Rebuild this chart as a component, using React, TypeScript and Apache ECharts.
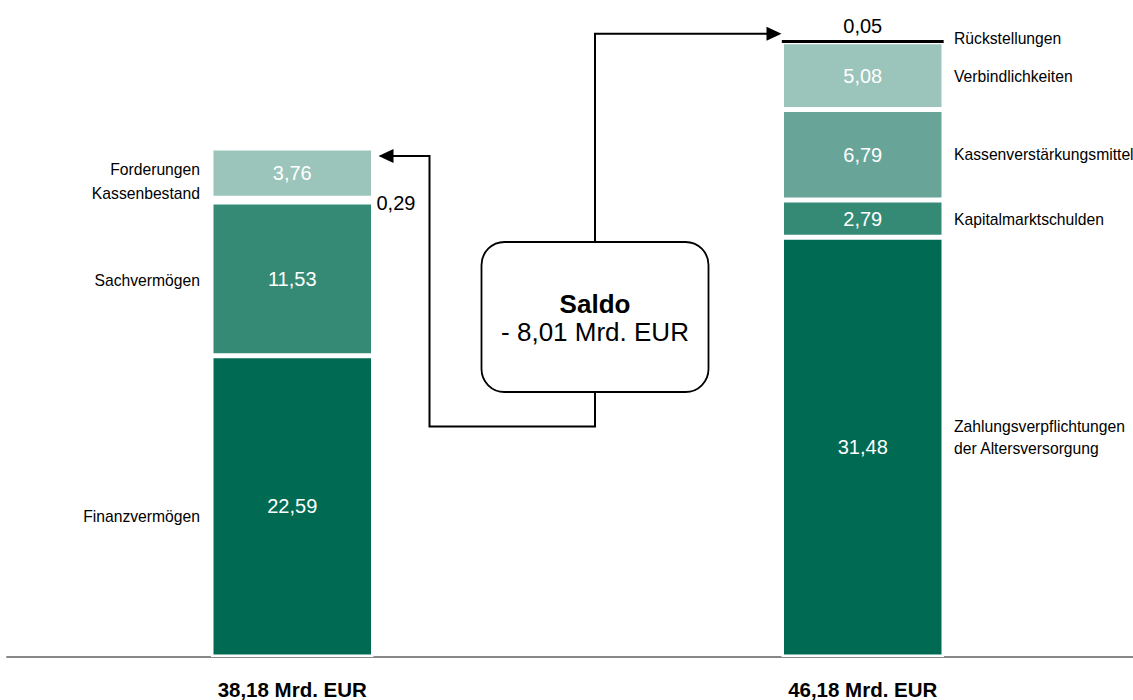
import React, { useEffect, useRef } from 'react';
import * as echarts from 'echarts';

// ---- data ----
const categories = ['38,18 Mrd. EUR', '46,18 Mrd. EUR'];
const leftNames = ['Finanzvermögen', 'Sachvermögen', 'Kassenbestand', 'Forderungen'];
const leftValues = [22.59, 11.53, 0.29, 3.76];
const rightNames = [
  'Zahlungsverpflichtungen\nder Altersversorgung',
  'Kapitalmarktschulden',
  'Kassenverstärkungsmittel',
  'Verbindlichkeiten',
  'Rückstellungen',
];
const rightValues = [31.48, 2.79, 6.79, 5.08, 0.05];
const saldoTitle = 'Saldo';
const saldoText = '- 8,01 Mrd. EUR';

// ---- styles / layout ----
const leftColors = ['#006a52', '#358a75', '#c6ded8', '#9bc4ba'];
const rightColors = ['#006a52', '#358a75', '#68a598', '#9bc4ba', '#000000'];
const leftNameDy = [10, 2, -7, -4];
const rightNameDy = [-9.6, 0.6, 0, 1, -3];
const BAR_W = 162.5;
const FONT = "'Liberation Sans', Arial, Helvetica, sans-serif";

const fmt = (v: number) => v.toFixed(2).replace('.', ',');

export default function App() {
  const ref = useRef<HTMLDivElement>(null);

  useEffect(() => {
    if (!ref.current) return;
    const chart = echarts.init(ref.current, null, { renderer: 'svg' });

    const valueLabel = (p: any) => (typeof p.value === 'number' ? fmt(p.value) : '');

    const leftSeries = leftValues.map((v, i) => ({
      type: 'bar',
      stack: 'total',
      name: leftNames[i],
      barWidth: BAR_W,
      data: [v, '-'],
      itemStyle: { color: leftColors[i], borderColor: '#ffffff', borderWidth: 2.5 },
      label:
        i === 2
          ? { show: true, position: 'right', distance: 3, offset: [0, 3], color: '#000', fontSize: 20, formatter: valueLabel }
          : { show: true, position: 'inside', color: '#ffffff', fontSize: 20, formatter: valueLabel },
    }));

    const rightSeries = rightValues.map((v, i) => ({
      type: 'bar',
      stack: 'total',
      name: rightNames[i],
      barWidth: BAR_W,
      data: ['-', v],
      itemStyle:
        i === 4
          ? { color: '#000', borderColor: '#000', borderWidth: 3 }
          : { color: rightColors[i], borderColor: '#ffffff', borderWidth: 2.5 },
      label:
        i === 4
          ? { show: true, position: 'top', distance: 4, color: '#000', fontSize: 20, formatter: valueLabel }
          : { show: true, position: 'inside', color: '#ffffff', fontSize: 20, formatter: valueLabel },
    }));

    chart.setOption({
      animation: false,
      textStyle: { fontFamily: FONT },
      grid: { left: 7, width: 1141, top: 17, bottom: 43, containLabel: false, outerBoundsMode: 'none' },
      xAxis: {
        type: 'category',
        data: categories,
        axisTick: { show: false },
        axisLine: { show: true, lineStyle: { color: '#888888', width: 2 } },
        axisLabel: { fontSize: 20.5, fontWeight: 'bold', color: '#000', margin: 21, lineHeight: 22, fontFamily: FONT },
      },
      yAxis: {
        type: 'value',
        min: 0,
        max: 48,
        show: false,
        splitLine: { show: false },
      },
      series: [...leftSeries, ...rightSeries],
    });

    const px = (cat: number, v: number) => chart.convertToPixel({ gridIndex: 0 }, [cat, v]) as number[];
    const sum = (a: number[]) => a.reduce((s, x) => s + x, 0);

    const graphics: any[] = [];
    const nameStyle = (text: string, x: number, y: number, align: string) => ({
      type: 'text',
      x,
      y,
      silent: true,
      style: {
        text,
        fill: '#000',
        fontSize: 15.7,
        fontFamily: FONT,
        lineHeight: 21.7,
        align,
        verticalAlign: 'middle',
        textAlign: align,
        textVerticalAlign: 'middle',
      },
    });

    let acc = 0;
    leftValues.forEach((v, i) => {
      const [cx, cy] = px(0, acc + v / 2);
      graphics.push(nameStyle(leftNames[i], cx - BAR_W / 2 - 11, cy + leftNameDy[i], 'right'));
      acc += v;
    });
    acc = 0;
    rightValues.forEach((v, i) => {
      const [cx, cy] = px(1, acc + v / 2);
      graphics.push(nameStyle(rightNames[i], cx + BAR_W / 2 + 10, cy + rightNameDy[i], 'left'));
      acc += v;
    });

    // annotation: saldo box with connectors
    const [lcx, lTop] = px(0, sum(leftValues));
    const [rcx, rTop] = px(1, sum(rightValues));
    const boxX = 481.5, boxY = 242, boxW = 227, boxH = 150;
    const midX = boxX + boxW / 2;
    const leftArrowY = lTop + 8;
    const leftTipX = lcx + BAR_W / 2 + 5;
    const rightArrowY = rTop - 7.5;
    const rightTipX = rcx - BAR_W / 2;
    const loopX = 429.5;
    const loopY = 426.5;
    const ah = 15; // arrow length
    const aw = 7; // arrow half height
    const lineStyle = { stroke: '#000', lineWidth: 2, fill: null };

    graphics.push({
      type: 'polyline',
      silent: true,
      shape: { points: [[midX, boxY], [midX, rightArrowY], [rightTipX - ah + 1, rightArrowY]] },
      style: lineStyle,
    });
    graphics.push({
      type: 'polygon',
      silent: true,
      shape: { points: [[rightTipX, rightArrowY], [rightTipX - ah, rightArrowY - aw], [rightTipX - ah, rightArrowY + aw]] },
      style: { fill: '#000' },
    });
    graphics.push({
      type: 'polyline',
      silent: true,
      shape: {
        points: [
          [midX, boxY + boxH],
          [midX, loopY],
          [loopX, loopY],
          [loopX, leftArrowY],
          [leftTipX + ah - 1, leftArrowY],
        ],
      },
      style: lineStyle,
    });
    graphics.push({
      type: 'polygon',
      silent: true,
      shape: { points: [[leftTipX, leftArrowY], [leftTipX + ah, leftArrowY - aw], [leftTipX + ah, leftArrowY + aw]] },
      style: { fill: '#000' },
    });
    graphics.push({
      type: 'rect',
      silent: true,
      shape: { x: boxX, y: boxY, width: boxW, height: boxH, r: 23 },
      style: { fill: '#ffffff', stroke: '#000', lineWidth: 1.8 },
    });
    graphics.push({
      type: 'text',
      silent: true,
      x: midX,
      y: 304,
      style: {
        text: saldoTitle,
        fill: '#000',
        fontSize: 26,
        fontWeight: 'bold',
        fontFamily: FONT,
        align: 'center',
        verticalAlign: 'middle',
        textAlign: 'center',
        textVerticalAlign: 'middle',
      },
    });
    graphics.push({
      type: 'text',
      silent: true,
      x: midX,
      y: 332,
      style: {
        text: saldoText,
        fill: '#000',
        fontSize: 26,
        fontFamily: FONT,
        align: 'center',
        verticalAlign: 'middle',
        textAlign: 'center',
        textVerticalAlign: 'middle',
      },
    });

    chart.setOption({ graphic: graphics });

    return () => chart.dispose();
  }, []);

  return (
    <div
      ref={ref}
      style={{ position: 'absolute', left: 0, top: 0, width: 1133, height: 700, background: '#ffffff' }}
    />
  );
}
